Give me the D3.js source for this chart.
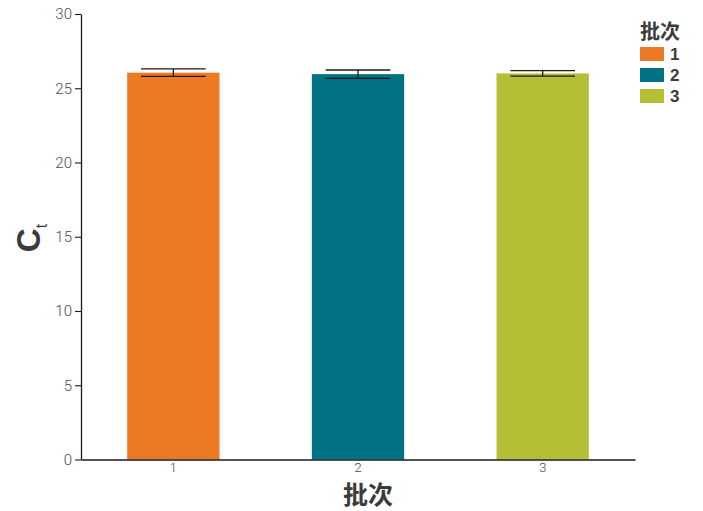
<!DOCTYPE html>
<html>
<head>
<meta charset="utf-8">
<script src="https://cdn.jsdelivr.net/npm/d3@7/dist/d3.min.js"></script>
<style>
  html, body { margin: 0; padding: 0; background: #fff; }
  svg { display: block; }
  .tick text { font-family: "Roboto", "Liberation Sans", sans-serif; font-weight: 300; }
</style>
</head>
<body>
<svg id="chart" width="703" height="511"></svg>
<script>
// Batch means of Ct with their error half-widths
const batches = ["1", "2", "3"];
const ctMeans = [26.05, 25.95, 26.0];
const ctErrors = [0.25, 0.28, 0.19];
const batchColors = ["#EC7A24", "#007283", "#B5BF36"];
const yTicks = [0, 5, 10, 15, 20, 25, 30];

const svg = d3.select("#chart");

const x = d3.scaleBand()
  .domain(batches)
  .range([81, 635])
  .paddingInner(0.5)
  .paddingOuter(0.25);

const y = d3.scaleLinear()
  .domain([0, 30])
  .range([459.5, 14]);

const color = d3.scaleOrdinal().domain(batches).range(batchColors);

// Bars
svg.append("g")
  .selectAll("rect")
  .data(batches)
  .join("rect")
  .attr("x", d => x(d))
  .attr("y", (d, i) => y(ctMeans[i]))
  .attr("width", x.bandwidth())
  .attr("height", (d, i) => y(0) - y(ctMeans[i]))
  .attr("fill", d => color(d));

// Error bars
const whisker = x.bandwidth() * 0.7;
const eb = svg.append("g")
  .attr("stroke", "#1a1a1a")
  .attr("stroke-width", 1.3)
  .selectAll("g")
  .data(batches)
  .join("g");
eb.append("line")
  .attr("x1", d => x(d) + x.bandwidth() / 2)
  .attr("x2", d => x(d) + x.bandwidth() / 2)
  .attr("y1", (d, i) => y(ctMeans[i] + ctErrors[i]))
  .attr("y2", (d, i) => y(ctMeans[i] - ctErrors[i]));
eb.append("line")
  .attr("x1", d => x(d) + (x.bandwidth() - whisker) / 2)
  .attr("x2", d => x(d) + (x.bandwidth() + whisker) / 2)
  .attr("y1", (d, i) => y(ctMeans[i] + ctErrors[i]))
  .attr("y2", (d, i) => y(ctMeans[i] + ctErrors[i]));
eb.append("line")
  .attr("x1", d => x(d) + (x.bandwidth() - whisker) / 2)
  .attr("x2", d => x(d) + (x.bandwidth() + whisker) / 2)
  .attr("y1", (d, i) => y(ctMeans[i] - ctErrors[i]))
  .attr("y2", (d, i) => y(ctMeans[i] - ctErrors[i]));

// Y axis
const yAxis = svg.append("g")
  .attr("transform", "translate(81,0)")
  .call(d3.axisLeft(y).tickValues(yTicks).tickSize(6).tickPadding(3).tickSizeOuter(0));
yAxis.select(".domain").attr("stroke", "#1a1a1a").attr("stroke-width", 1.3);
yAxis.selectAll(".tick line").attr("stroke", "#1a1a1a").attr("stroke-width", 1.1);
yAxis.selectAll(".tick text").attr("font-size", 15).attr("fill", "#4d4d4d");

// X axis
const xAxis = svg.append("g")
  .attr("transform", "translate(0,459.5)")
  .call(d3.axisBottom(x).tickSize(0).tickPadding(3).tickSizeOuter(0));
xAxis.select(".domain").attr("stroke", "#1a1a1a").attr("stroke-width", 1.3);
xAxis.selectAll(".tick text").attr("font-size", 13.5).attr("fill", "#4d4d4d");

// Axis titles
svg.append("text")
  .attr("x", 368)
  .attr("y", 503.5)
  .attr("text-anchor", "middle")
  .attr("font-family", "Noto Sans CJK SC")
  .attr("font-weight", 700)
  .attr("font-size", 25)
  .attr("fill", "#3b3b3b")
  .text("批次");

const yTitle = svg.append("text")
  .attr("transform", "translate(40,238) rotate(-90)")
  .attr("text-anchor", "middle")
  .attr("font-family", "Liberation Sans, sans-serif")
  .attr("font-weight", 700)
  .attr("fill", "#3b3b3b");
yTitle.append("tspan").attr("font-size", 33).text("C");
yTitle.append("tspan").attr("font-size", 16).attr("font-weight", 400).attr("dy", 7).text("t");

// Legend
const legend = svg.append("g").attr("transform", "translate(640,0)");
legend.append("text")
  .attr("x", 0)
  .attr("y", 39)
  .attr("font-family", "Noto Sans CJK SC")
  .attr("font-weight", 700)
  .attr("font-size", 20)
  .attr("fill", "#3b3b3b")
  .text("批次");
const items = legend.selectAll("g.item")
  .data(batches)
  .join("g")
  .attr("class", "item")
  .attr("transform", (d, i) => `translate(0,${47 + i * 21})`);
items.append("rect")
  .attr("width", 24)
  .attr("height", 14)
  .attr("fill", d => color(d));
items.append("text")
  .attr("x", 30)
  .attr("y", 13)
  .attr("font-family", "Liberation Sans, sans-serif")
  .attr("font-weight", 700)
  .attr("font-size", 17)
  .attr("fill", "#3b3b3b")
  .text(d => d);
</script>
</body>
</html>
